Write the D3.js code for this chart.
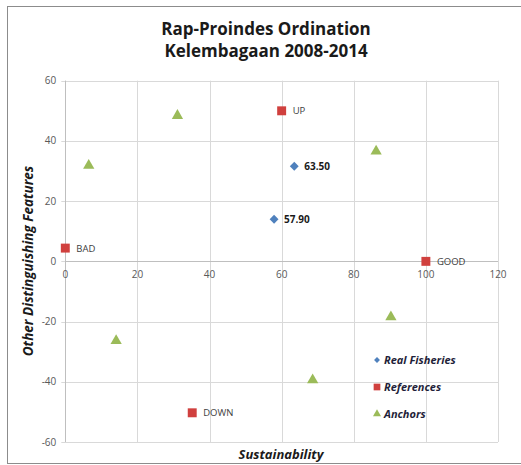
<!DOCTYPE html>
<html><head><meta charset="utf-8">
<script src="https://cdn.jsdelivr.net/npm/d3@7"></script>
<style>body{margin:0;background:#fff}svg{display:block}</style>
</head><body>
<svg id="chart" width="521" height="465"></svg>
<script>
const titleLines = ["Rap-Proindes Ordination", "Kelembagaan 2008-2014"];
const xTicks = [0, 20, 40, 60, 80, 100, 120];
const yTicks = [-60, -40, -20, 0, 20, 40, 60];
const fisheriesX = [63.5, 57.9];
const fisheriesY = [31.6, 14.0];
const fisheriesLabels = ["63.50", "57.90"];
const referenceX = [100, 0, 60, 35.2];
const referenceY = [0, 4.4, 50, -50.3];
const referenceLabels = ["GOOD", "BAD", "UP", "DOWN"];
const anchorX = [6.5, 31.1, 86.2, 90.3, 68.6, 14.1];
const anchorY = [31.8, 48.4, 36.6, -18.5, -39.4, -26.4];
const legendNames = ["Real Fisheries", "References", "Anchors"];

const svg = d3.select("#chart");
const font = "'Open Sans', 'Liberation Sans', sans-serif";
svg.append("rect").attr("x", 7.5).attr("y", 6.5).attr("width", 514).attr("height", 457)
  .attr("fill", "#fff").attr("stroke", "#8c8c8c");

const x = d3.scaleLinear().domain([0, 120]).range([65.3, 498]);
const y = d3.scaleLinear().domain([-60, 60]).range([442, 80.7]);

// gridlines
const g = svg.append("g");
g.selectAll("line.v").data(xTicks).join("line")
  .attr("x1", d => Math.round(x(d)) + 0.5).attr("x2", d => Math.round(x(d)) + 0.5)
  .attr("y1", y(60)).attr("y2", y(-60)).attr("stroke", "#d9d9d9");
g.selectAll("line.h").data(yTicks).join("line")
  .attr("y1", d => Math.round(y(d)) + 0.5).attr("y2", d => Math.round(y(d)) + 0.5)
  .attr("x1", x(0) - 4).attr("x2", x(120)).attr("stroke", "#d9d9d9");
// axes lines
g.append("line").attr("x1", x(0)).attr("x2", x(120)).attr("y1", Math.round(y(0)) + 0.5).attr("y2", Math.round(y(0)) + 0.5).attr("stroke", "#bfbfbf");
g.append("line").attr("x1", Math.round(x(0)) + 0.5).attr("x2", Math.round(x(0)) + 0.5).attr("y1", y(60)).attr("y2", y(-60)).attr("stroke", "#bfbfbf");

// tick labels
svg.append("g").selectAll("text").data(xTicks).join("text")
  .attr("x", d => x(d)).attr("y", y(0) + 17).attr("text-anchor", "middle")
  .attr("font-family", font).attr("font-size", 10).attr("fill", "#595959").text(d => d);
svg.append("g").selectAll("text").data(yTicks).join("text")
  .attr("x", x(0) - 9).attr("y", d => y(d) + 3.5).attr("text-anchor", "end")
  .attr("font-family", font).attr("font-size", 10).attr("fill", "#595959").text(d => d);

// title
svg.append("g").selectAll("text").data(titleLines).join("text")
  .attr("x", 266).attr("y", (d, i) => 35 + i * 21.5).attr("text-anchor", "middle")
  .attr("font-family", font).attr("font-weight", "bold").attr("font-size", 17).attr("fill", "#1a1a1a").text(d => d);

// axis titles
svg.append("text").attr("x", 281).attr("y", 459).attr("text-anchor", "middle")
  .attr("font-family", font).attr("font-weight", "bold").attr("font-style", "italic")
  .attr("font-size", 13).attr("fill", "#1a1a1a").text("Sustainability");
svg.append("text").attr("transform", "translate(33,261) rotate(-90)").attr("text-anchor", "middle")
  .attr("font-family", font).attr("font-weight", "bold").attr("font-style", "italic")
  .attr("font-size", 13.5).attr("fill", "#1a1a1a").text("Other Distinguishing Features");

const diamond = d3.symbol().type(d3.symbolDiamond2).size(50);
const square = d3.symbol().type(d3.symbolSquare).size(80);
const tri = d3.symbol().type(d3.symbolTriangle).size(55);

// anchors
svg.append("g").selectAll("path").data(anchorX).join("path")
  .attr("d", tri).attr("transform", (d, i) => `translate(${x(d)},${y(anchorY[i])})`)
  .attr("fill", "#9bbb59");
// references
const refs = svg.append("g").selectAll("g").data(referenceX).join("g")
  .attr("transform", (d, i) => `translate(${x(d)},${y(referenceY[i])})`);
refs.append("path").attr("d", square).attr("fill", "#d0403e");
refs.append("text").attr("x", 11).attr("y", 3.5).attr("font-family", font).attr("font-size", 9.5)
  .attr("fill", "#404040").text((d, i) => referenceLabels[i]);
// fisheries
const fish = svg.append("g").selectAll("g").data(fisheriesX).join("g")
  .attr("transform", (d, i) => `translate(${x(d)},${y(fisheriesY[i])})`);
fish.append("path").attr("d", diamond).attr("fill", "#4f81bd");
fish.append("text").attr("x", 10).attr("y", 4).attr("font-family", font).attr("font-size", 10)
  .attr("font-weight", "bold").attr("fill", "#1a1a1a").text((d, i) => fisheriesLabels[i]);

// legend
const legendColors = ["#4f81bd", "#d0403e", "#9bbb59"];
const lg = svg.append("g").selectAll("g").data(legendNames).join("g")
  .attr("transform", (d, i) => `translate(377,${360 + i * 27})`);
lg.append("path").attr("d", (d, i) => d3.symbol().type([d3.symbolDiamond2, d3.symbolSquare, d3.symbolTriangle][i]).size([22, 45, 28][i])())
  .attr("fill", (d, i) => legendColors[i]);
lg.append("text").attr("x", 7).attr("y", 4).attr("font-family", font).attr("font-weight", "bold")
  .attr("font-style", "italic").attr("font-size", 11).attr("fill", "#1f1f3a").text(d => d);
</script>
</body></html>
